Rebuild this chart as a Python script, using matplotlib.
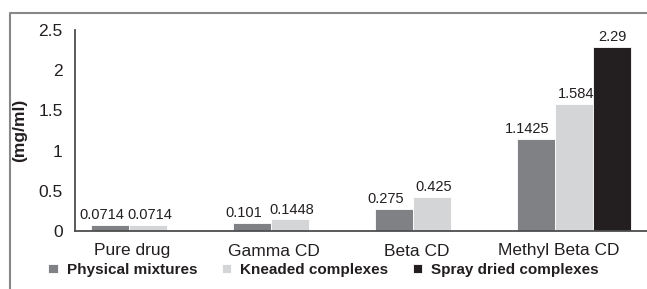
import matplotlib
matplotlib.use("Agg")
import matplotlib.pyplot as plt
import numpy as np
from matplotlib.lines import Line2D

categories = ["Pure drug", "Gamma CD", "Beta CD", "Methyl Beta CD"]
series_names = ["Physical mixtures", "Kneaded complexes", "Spray dried complexes"]
physical = [0.0714, 0.101, 0.275, 1.1425]
kneaded = [0.0714, 0.1448, 0.425, 1.584]
spray = [None, None, None, 2.29]
physical_labels = ["0.0714", "0.101", "0.275", "1.1425"]
kneaded_labels = ["0.0714", "0.1448", "0.425", "1.584"]
spray_labels = ["", "", "", "2.29"]
yticks = [0, 0.5, 1, 1.5, 2, 2.5]
ytick_labels = ["0", "0.5", "1", "1.5", "2", "2.5"]

colors = ["#808184", "#d4d5d6", "#231f20"]
label_dx = [-6, 1.5, 0]  # horizontal nudge of value labels (points)
plt.rcParams['font.family'] = ['Liberation Sans', 'DejaVu Sans']

fig = plt.figure(figsize=(6.47, 2.89), dpi=100)
ax = fig.add_axes([75/647, 58/289, 1 - 75/647, 201/289])

x = np.arange(len(categories))
w = 0.268
all_series = [physical, kneaded, spray]
all_labels = [physical_labels, kneaded_labels, spray_labels]
for k, (vals, labs) in enumerate(zip(all_series, all_labels)):
    xs = [xi + (k - 1) * w for xi, v in zip(x, vals) if v is not None]
    vs = [v for v in vals if v is not None]
    ls = [l for l, v in zip(labs, vals) if v is not None]
    ax.bar(xs, vs, width=w, color=colors[k], edgecolor="white", linewidth=0.6,
           label=series_names[k])
    for xv, yv, lab in zip(xs, vs, ls):
        ax.annotate(lab, (xv, yv), xytext=(label_dx[k], 2), textcoords="offset points",
                    ha="center", va="bottom", fontsize=10.5, color="#231f20")

ax.set_xlim(-0.514, 3.514)
ax.set_ylim(0, 2.5)
ax.set_yticks(yticks)
ax.set_yticklabels(ytick_labels, fontsize=12.5, color="#231f20")
ax.set_xticks(x - 0.11)
ax.set_xticklabels(categories, fontsize=12.5, color="#231f20")
ax.tick_params(axis="y", length=0, pad=9)
ax.tick_params(axis="x", length=0, pad=9)
for s in ["top", "right"]:
    ax.spines[s].set_visible(False)
for s in ["left", "bottom"]:
    ax.spines[s].set_color("#4d4d4f")
    ax.spines[s].set_linewidth(1.3)
ax.set_ylabel("(mg/ml)", fontsize=12.5, fontweight="bold", color="#231f20")
ax.yaxis.set_label_coords(-0.084, 0.5)

leg = ax.legend(loc="center", bbox_to_anchor=(0.5, 1 - 270/289), bbox_transform=fig.transFigure,
                ncol=3, frameon=False, handlelength=0.6, handleheight=0.6, handletextpad=0.6,
                columnspacing=1.6, prop={"weight": "bold", "size": 11})
for t in leg.get_texts():
    t.set_color("#231f20")

# outer frame
fig.add_artist(Line2D([10/647, 10/647, 1.0], [0, 1 - 13/289, 1 - 13/289],
                      transform=fig.transFigure, color="#888888", linewidth=1.5))

fig.savefig("out.png", dpi=100)
